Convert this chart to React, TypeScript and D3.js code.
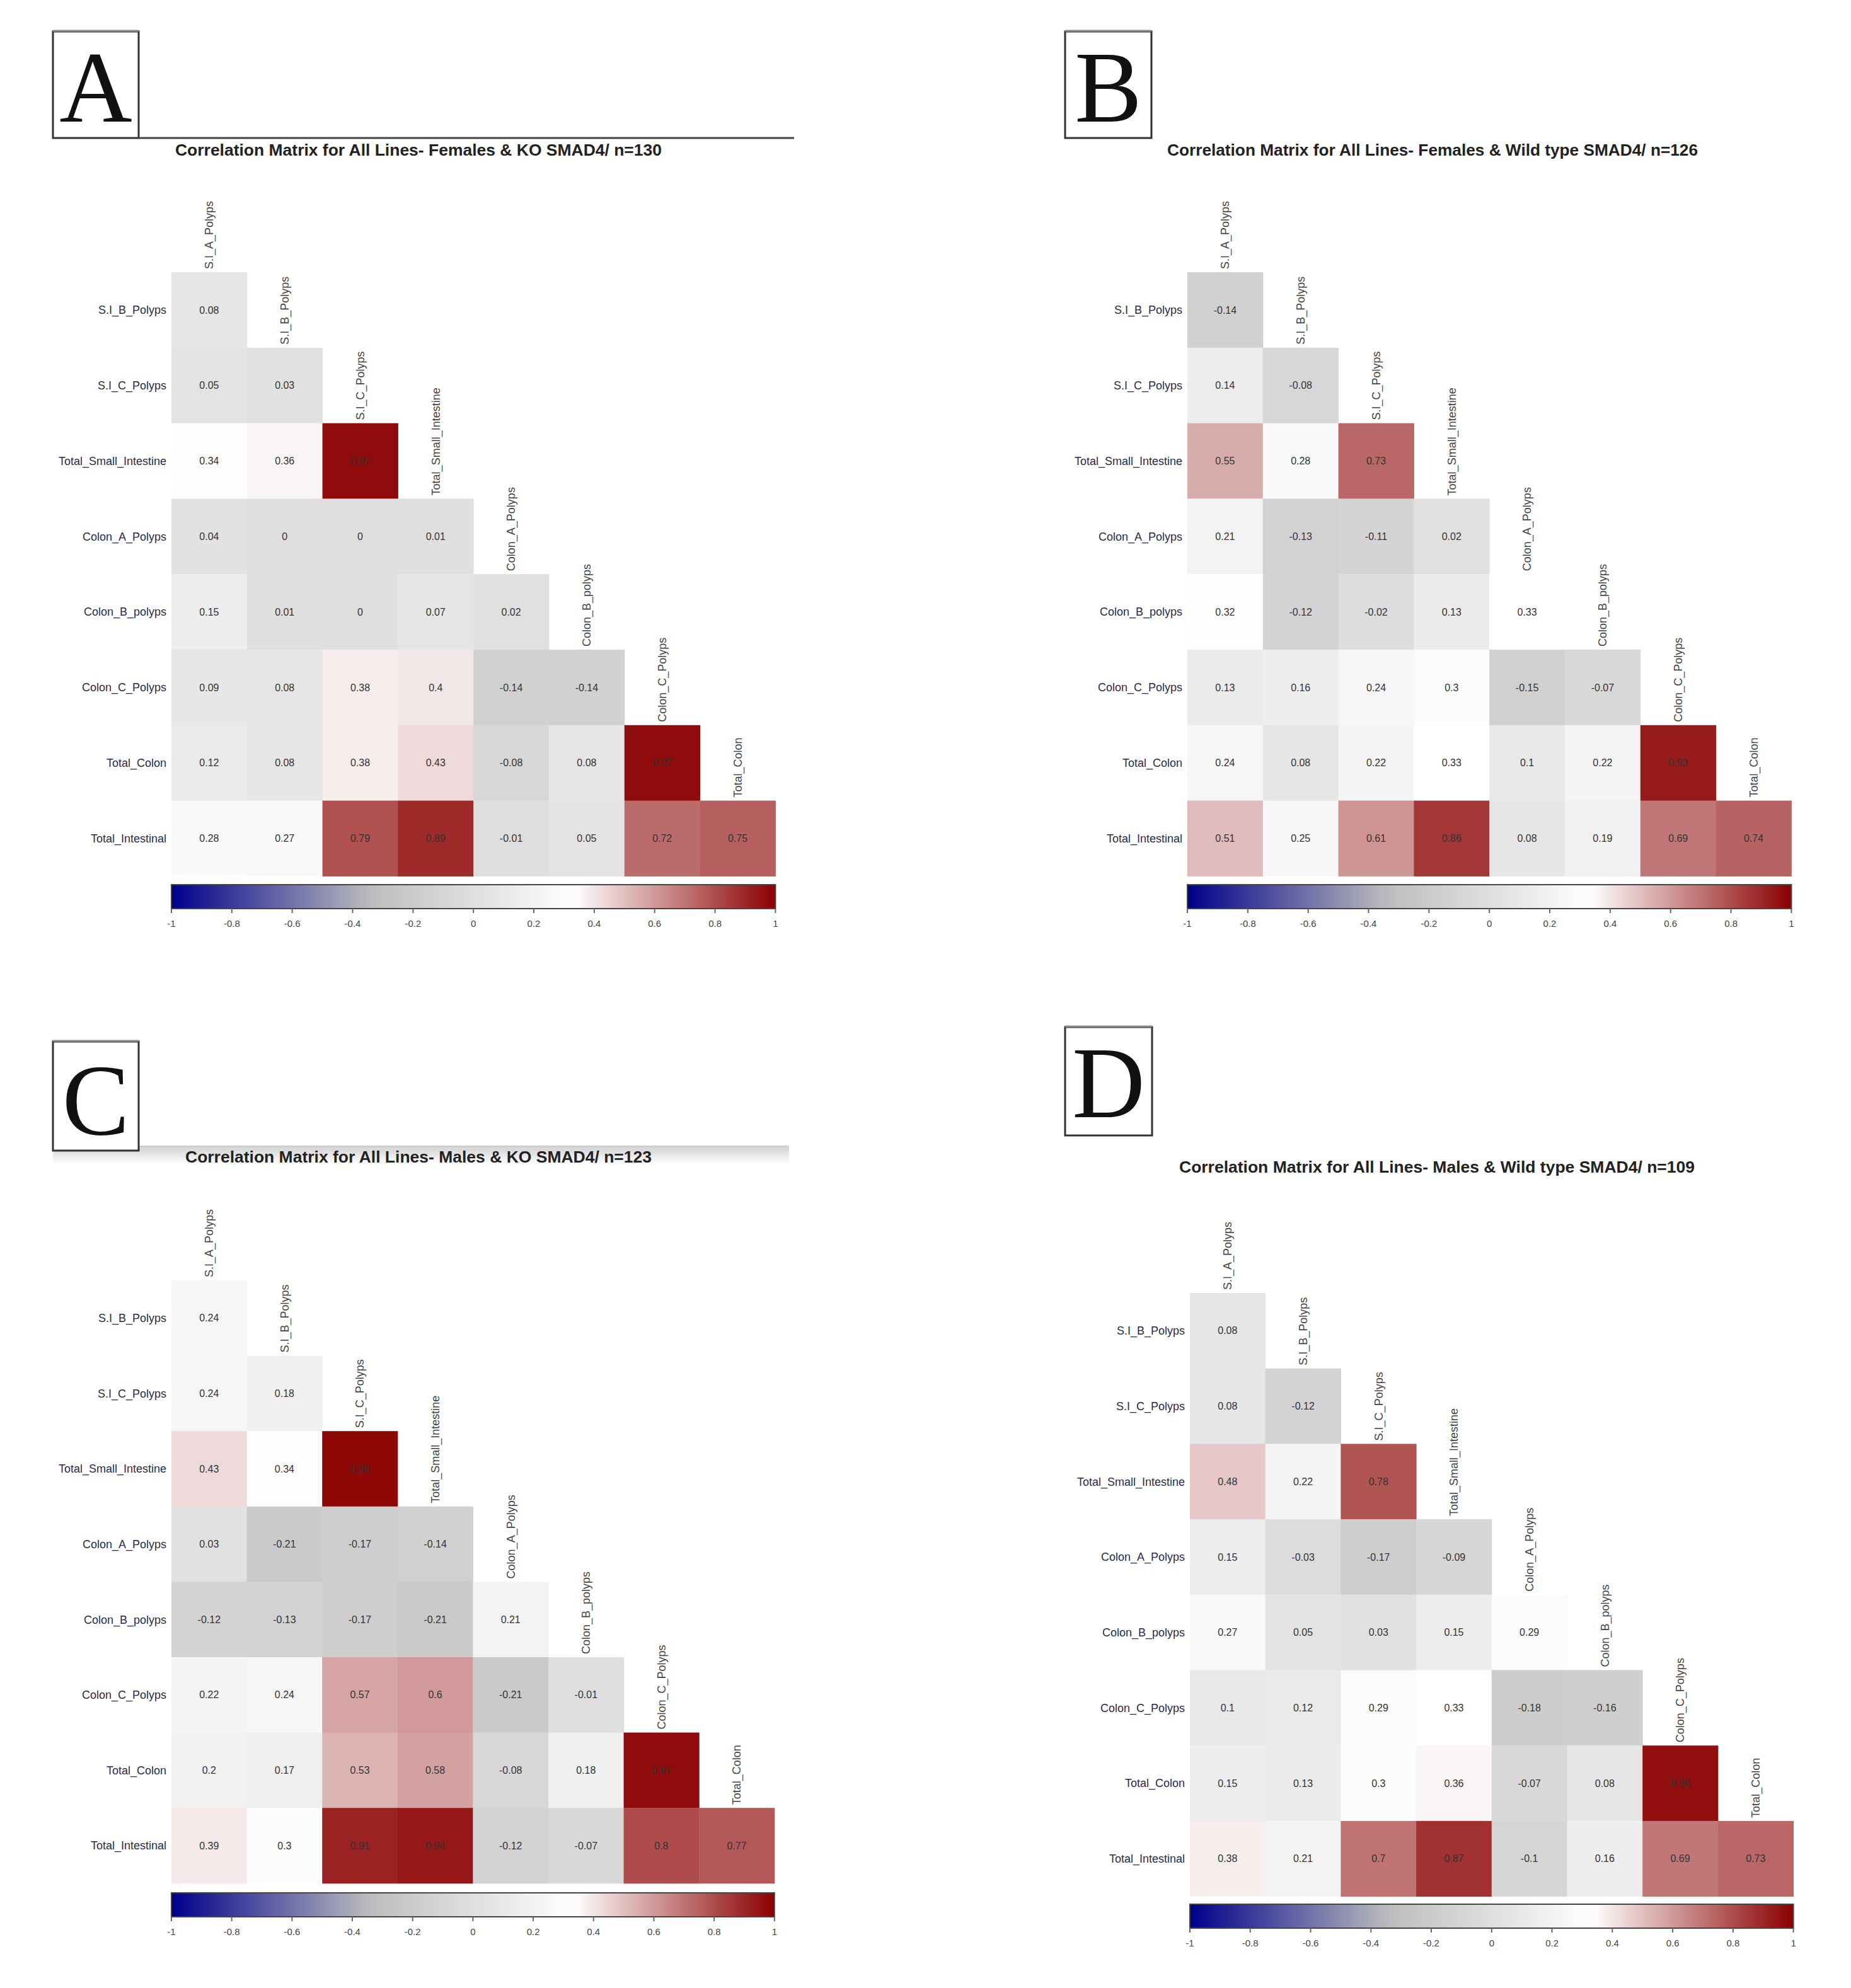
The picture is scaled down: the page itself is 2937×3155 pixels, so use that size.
import React from "react";
import * as d3 from "d3";

const variables = [
  "S.I_A_Polyps",
  "S.I_B_Polyps",
  "S.I_C_Polyps",
  "Total_Small_Intestine",
  "Colon_A_Polyps",
  "Colon_B_polyps",
  "Colon_C_Polyps",
  "Total_Colon",
  "Total_Intestinal",
];
const rowLabels = variables.slice(1);
const colLabels = variables.slice(0, 8);

const corrA = [
  [0.08],
  [0.05, 0.03],
  [0.34, 0.36, 0.97],
  [0.04, 0, 0, 0.01],
  [0.15, 0.01, 0, 0.07, 0.02],
  [0.09, 0.08, 0.38, 0.4, -0.14, -0.14],
  [0.12, 0.08, 0.38, 0.43, -0.08, 0.08, 0.97],
  [0.28, 0.27, 0.79, 0.89, -0.01, 0.05, 0.72, 0.75],
];
const corrB = [
  [-0.14],
  [0.14, -0.08],
  [0.55, 0.28, 0.73],
  [0.21, -0.13, -0.11, 0.02],
  [0.32, -0.12, -0.02, 0.13, 0.33],
  [0.13, 0.16, 0.24, 0.3, -0.15, -0.07],
  [0.24, 0.08, 0.22, 0.33, 0.1, 0.22, 0.93],
  [0.51, 0.25, 0.61, 0.86, 0.08, 0.19, 0.69, 0.74],
];
const corrC = [
  [0.24],
  [0.24, 0.18],
  [0.43, 0.34, 0.98],
  [0.03, -0.21, -0.17, -0.14],
  [-0.12, -0.13, -0.17, -0.21, 0.21],
  [0.22, 0.24, 0.57, 0.6, -0.21, -0.01],
  [0.2, 0.17, 0.53, 0.58, -0.08, 0.18, 0.97],
  [0.39, 0.3, 0.91, 0.94, -0.12, -0.07, 0.8, 0.77],
];
const corrD = [
  [0.08],
  [0.08, -0.12],
  [0.48, 0.22, 0.78],
  [0.15, -0.03, -0.17, -0.09],
  [0.27, 0.05, 0.03, 0.15, 0.29],
  [0.1, 0.12, 0.29, 0.33, -0.18, -0.16],
  [0.15, 0.13, 0.3, 0.36, -0.07, 0.08, 0.96],
  [0.38, 0.21, 0.7, 0.87, -0.1, 0.16, 0.69, 0.73],
];

const titles = [
  "Correlation Matrix for All Lines- Females & KO SMAD4/ n=130",
  "Correlation Matrix for All Lines- Females & Wild type SMAD4/ n=126",
  "Correlation Matrix for All Lines- Males & KO SMAD4/ n=123",
  "Correlation Matrix for All Lines- Males & Wild type SMAD4/ n=109",
];
const panelLetters = ["A", "B", "C", "D"];
const colorbarTicks = [-1, -0.8, -0.6, -0.4, -0.2, 0, 0.2, 0.4, 0.6, 0.8, 1];

const color = d3
  .scaleLinear<string>()
  .domain([-1, -1 / 3, 1 / 3, 1])
  .range(["#00008B", "#BEBEBE", "#FFFFFF", "#8B0000"])
  .interpolate(d3.interpolateRgb);

const SANS = "'Liberation Sans', Arial, sans-serif";
const NARROW = "'Liberation Sans Narrow', 'Liberation Sans', Arial, sans-serif";
const SERIF = "'Liberation Serif', 'DejaVu Serif', serif";

type Layout = {
  box: { x: number; y: number; w: number; h: number; base: number };
  titleX: number;
  titleY: number;
  titleW: number;
  x0: number;
  y0: number;
  cell: number;
  barY: number;
  line?: boolean;
  band?: boolean;
};

const layouts: Layout[] = [
  { box: { x: 84, y: 50, w: 136, h: 169, base: 143 }, titleX: 664, titleY: 247, titleW: 772, x0: 272, y0: 432, cell: 119.8, barY: 1404, line: true },
  { box: { x: 1690, y: 50, w: 137, h: 169, base: 143 }, titleX: 2273, titleY: 247, titleW: 842, x0: 1884, y0: 432, cell: 119.8, barY: 1404 },
  { box: { x: 84, y: 1653, w: 136, h: 173, base: 147 }, titleX: 664, titleY: 1845, titleW: 740, x0: 272, y0: 2032, cell: 119.6, barY: 3004, band: true },
  { box: { x: 1690, y: 1630, w: 138, h: 172, base: 143 }, titleX: 2280, titleY: 1861, titleW: 818, x0: 1888, y0: 2052, cell: 119.7, barY: 3022 },
];

const datasets = [corrA, corrB, corrC, corrD];

function Panel({ idx }: { idx: number }) {
  const L = layouts[idx];
  const data = datasets[idx];
  const W = L.cell * 8;
  const x = d3.scaleBand().domain(colLabels).range([L.x0, L.x0 + W]);
  const y = d3.scaleBand().domain(rowLabels).range([L.y0, L.y0 + W]);
  const bx = d3.scaleLinear().domain([-1, 1]).range([L.x0, L.x0 + W]);
  const barH = 38;
  const cells: { r: number; c: number; v: number }[] = [];
  data.forEach((row, r) => row.forEach((v, c) => cells.push({ r, c, v })));
  return (
    <g>
      {L.band && (
        <rect x={84} y={1818} width={1168} height={30} fill={`url(#band)`} />
      )}
      <rect x={L.box.x} y={L.box.y} width={L.box.w} height={L.box.h} fill="#fff" stroke="#333" strokeWidth={3} />
      <line x1={L.box.x} x2={L.box.x + L.box.w} y1={L.box.y - 1} y2={L.box.y - 1} stroke="#888" strokeWidth={3} />
      <text
        x={L.box.x + L.box.w / 2}
        y={L.box.y + L.box.base}
        textAnchor="middle"
        fontFamily={SERIF}
        fontSize={160}
        fill="#111"
      >
        {panelLetters[idx]}
      </text>
      {L.line && (
        <line x1={L.box.x + L.box.w} x2={1260} y1={L.box.y + L.box.h} y2={L.box.y + L.box.h} stroke="#444" strokeWidth={3} />
      )}
      <text
        x={L.titleX}
        y={L.titleY}
        textAnchor="middle"
        fontFamily={SANS}
        fontWeight="bold"
        fontSize={25}
        fill="#222"
        textLength={L.titleW}
        lengthAdjust="spacingAndGlyphs"
      >
        {titles[idx]}
      </text>
      {cells.map(({ r, c, v }) => (
        <g key={`${r}-${c}`}>
          <rect
            x={x(colLabels[c])!}
            y={y(rowLabels[r])!}
            width={x.bandwidth() + 0.5}
            height={y.bandwidth() + 0.5}
            fill={color(v)}
          />
          <text
            x={x(colLabels[c])! + x.bandwidth() / 2}
            y={y(rowLabels[r])! + y.bandwidth() / 2}
            dy="0.35em"
            textAnchor="middle"
            fontFamily={NARROW}
            fontSize={16}
            fill="#333"
          >
            {String(v)}
          </text>
        </g>
      ))}
      {rowLabels.map((lab) => (
        <text
          key={lab}
          x={L.x0 - 8}
          y={y(lab)! + y.bandwidth() / 2}
          dy="0.35em"
          textAnchor="end"
          fontFamily={NARROW}
          fontSize={18}
          fill="#2a2a4a"
        >
          {lab}
        </text>
      ))}
      {colLabels.map((lab, j) => {
        const cx = x(lab)! + x.bandwidth() / 2;
        const top = y(rowLabels[j])! - 5;
        return (
          <text
            key={lab}
            transform={`translate(${cx},${top}) rotate(-90)`}
            dy="0.35em"
            textAnchor="start"
            fontFamily={SANS}
            fontSize={18}
            fill="#444"
          >
            {lab}
          </text>
        );
      })}
      <rect x={L.x0} y={L.barY} width={W} height={barH} fill="url(#cbar)" stroke="#444" strokeWidth={2} />
      {colorbarTicks.map((t) => (
        <g key={t}>
          <line x1={bx(t)} x2={bx(t)} y1={L.barY + barH} y2={L.barY + barH + 7} stroke="#666" strokeWidth={2} />
          <text
            x={bx(t)}
            y={L.barY + barH + 29}
            textAnchor="middle"
            fontFamily={NARROW}
            fontSize={15}
            fill="#444"
          >
            {String(t)}
          </text>
        </g>
      ))}
    </g>
  );
}

export default function App() {
  const stops = d3.range(0, 41).map((i) => -1 + i * 0.05);
  return (
    <div style={{ position: "absolute", left: 0, top: 0 }}>
      <svg width={2937} height={3155} style={{ display: "block", background: "#fff" }}>
        <defs>
          <linearGradient id="cbar" x1="0" x2="1" y1="0" y2="0">
            {stops.map((s) => (
              <stop key={s} offset={`${((s + 1) / 2) * 100}%`} stopColor={color(s)} />
            ))}
          </linearGradient>
          <linearGradient id="band" x1="0" x2="0" y1="0" y2="1">
            <stop offset="0%" stopColor="#cfcfcf" />
            <stop offset="100%" stopColor="#ffffff" />
          </linearGradient>
        </defs>
        <rect x={0} y={0} width={2937} height={3155} fill="#fff" />
        {[0, 1, 2, 3].map((i) => (
          <Panel key={i} idx={i} />
        ))}
      </svg>
    </div>
  );
}
